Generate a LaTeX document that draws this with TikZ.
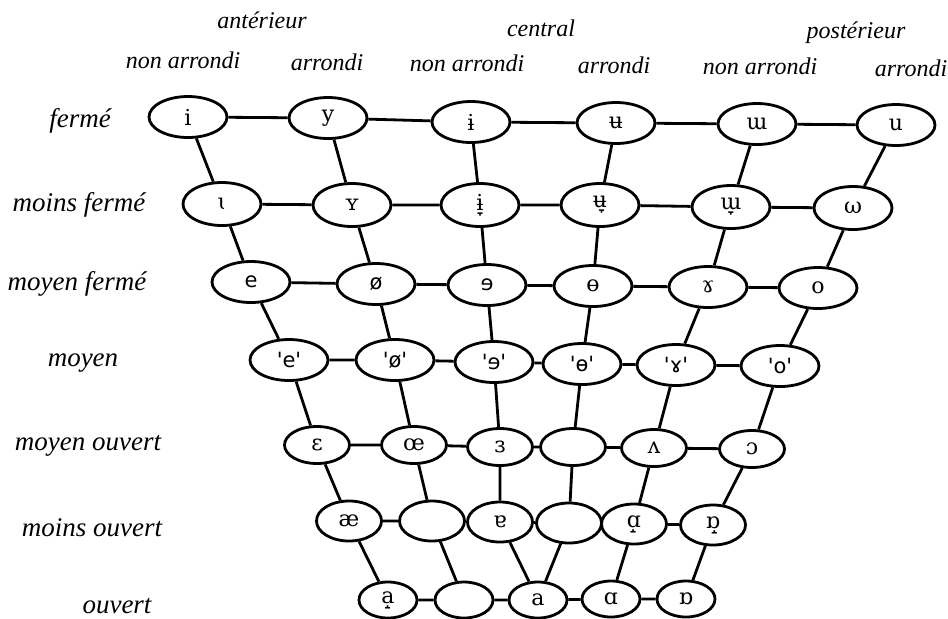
\documentclass[tikz,border=0pt]{standalone}
\usepackage{fontspec}
\setmainfont{Liberation Serif}
\newfontfamily\ipaserif{DejaVu Serif}[Ligatures=TeXOff]
\newfontfamily\ipasans{DejaVu Sans}[Ligatures=TeXOff]
\usetikzlibrary{shapes.geometric}

\def \symfont{\ipaserif\fontsize{11}{13}\selectfont}
\def \sansfont{\ipasans\fontsize{10.5}{13}\selectfont}

\begin{document}
\begin{tikzpicture}[x=0.5pt,y=-0.5pt,
  vowel/.style={ellipse,draw,line width=1.4pt,inner sep=0pt,font=\symfont},
  big/.style={vowel,minimum width=39pt,minimum height=20.5pt},
  mid/.style={vowel,minimum width=32.5pt,minimum height=18.5pt},
  small/.style={vowel,minimum width=29pt,minimum height=18pt},
  sans/.style={font=\sansfont},
  link/.style={line width=1.4pt},
  rowlab/.style={font=\itshape\fontsize{13.5}{15}\selectfont},
  collab/.style={font=\itshape\fontsize{12}{14}\selectfont}]
\useasboundingbox (0,0) rectangle (948,618);
% column headings
\node[collab] (ant) at (262,20) {antérieur};
\node[collab] (cen) at (541,28) {central};
\node[collab] (pos) at (856,33) {postérieur};
\node[collab] (c1) at (183,60) {non arrondi};
\node[collab] (c2) at (327,62) {arrondi};
\node[collab] (c3) at (467,63) {non arrondi};
\node[collab] (c4) at (614,65) {arrondi};
\node[collab] (c5) at (760,66) {non arrondi};
\node[collab] (c6) at (911,68) {arrondi};
% row headings
\node[rowlab] (l1) at (80,121) {fermé};
\node[rowlab] (l2) at (79,205) {moins fermé};
\node[rowlab] (l3) at (77,284) {moyen fermé};
\node[rowlab] (l4) at (83,363) {moyen};
\node[rowlab] (l5) at (88,446) {moyen ouvert};
\node[rowlab] (l6) at (92,528) {moins ouvert};
\node[rowlab] (l7) at (117,606) {ouvert};
% fermé
\node[big] (fe1) at (188,117) {i};
\node[big] (fe2) at (328,118) {y};
\node[big] (fe3) at (471,122) {ɨ};
\node[big] (fe4) at (616,123) {ʉ};
\node[big] (fe5) at (757,124) {ɯ};
\node[big] (fe6) at (896,125) {u};
% moins fermé
\node[big,minimum height=21.5pt] (mf1) at (222,204) {ɩ};
\node[big,minimum height=21.5pt] (mf2) at (352,205) {ʏ};
\node[big,minimum height=21.5pt] (mf3) at (480,205) {ɨ̞};
\node[big,minimum height=21.5pt] (mf4) at (600,205) {ʉ̞};
\node[big,minimum height=21.5pt] (mf5) at (731,207) {ɯ̞};
\node[big,minimum height=21.5pt] (mf6) at (853,208) {ω};
% moyen fermé
\node[big,sans] (yf1) at (251,282) {e};
\node[big,sans] (yf2) at (376,284) {ø};
\node[big,sans] (yf3) at (487,285) {ɘ};
\node[big] (yf4) at (593,286) {ɵ};
\node[big] (yf5) at (708,287) {ɤ};
\node[big] (yf6) at (818,288) {o};
% moyen
\node[big,sans] (my1) at (289,360) {'e'};
\node[big,sans] (my2) at (395,360) {'ø'};
\node[big,sans] (my3) at (494,362) {'ɘ'};
\node[big,sans] (my4) at (582,364) {'ɵ'};
\node[big,sans] (my5) at (676,365) {'ɤ'};
\node[big,sans] (my6) at (780,366) {'o'};
% moyen ouvert
\node[mid] (mo1) at (317,445) {ɛ};
\node[mid] (mo2) at (414,445) {œ};
\node[mid] (mo3) at (500,447) {ɜ};
\node[mid] (mo4) at (573,447) {};
\node[mid] (mo5) at (654,448) {ʌ};
\node[mid] (mo6) at (752,449) {ɔ};
% moins ouvert
\node[mid,minimum height=20pt] (lo1) at (349,521) {æ};
\node[mid,minimum height=20pt] (lo2) at (432,521) {};
\node[mid,minimum height=20pt] (lo3) at (500,522) {ɐ};
\node[mid,minimum height=20pt] (lo4) at (569,523) {};
\node[mid,minimum height=20pt] (lo5) at (634,524) {ɑ̝};
\node[mid,minimum height=20pt] (lo6) at (713,525) {ɒ̝};
% ouvert
\node[small] (ou1) at (388,600) {a̝};
\node[small] (ou2) at (464,600) {};
\node[small] (ou3) at (538,600) {a};
\node[small] (ou4) at (611,599) {ɑ};
\node[small] (ou5) at (686,599) {ɒ};
% rows
\draw[link] (fe1) -- (fe2) -- (fe3) -- (fe4) -- (fe5) -- (fe6);
\draw[link] (mf1) -- (mf2) -- (mf3) -- (mf4) -- (mf5) -- (mf6);
\draw[link] (yf1) -- (yf2) -- (yf3) -- (yf4) -- (yf5) -- (yf6);
\draw[link] (my1) -- (my2) -- (my3) -- (my4) -- (my5) -- (my6);
\draw[link] (mo1) -- (mo2) -- (mo3) -- (mo4) -- (mo5) -- (mo6);
\draw[link] (lo1) -- (lo2) -- (lo3) -- (lo4) -- (lo5) -- (lo6);
\draw[link] (ou1) -- (ou2) -- (ou3) -- (ou4) -- (ou5);
% columns
\draw[link] (fe1) -- (mf1) -- (yf1) -- (my1) -- (mo1) -- (lo1) -- (ou1);
\draw[link] (fe2) -- (mf2) -- (yf2) -- (my2) -- (mo2) -- (lo2) -- (ou2);
\draw[link] (fe3) -- (mf3) -- (yf3) -- (my3) -- (mo3) -- (lo3) -- (ou3);
\draw[link] (fe4) -- (mf4) -- (yf4) -- (my4) -- (mo4) -- (lo4) -- (ou3);
\draw[link] (fe5) -- (mf5) -- (yf5) -- (my5) -- (mo5) -- (lo5) -- (ou4);
\draw[link] (fe6) -- (mf6) -- (yf6) -- (my6) -- (mo6) -- (lo6) -- (ou5);
\end{tikzpicture}
\end{document}
